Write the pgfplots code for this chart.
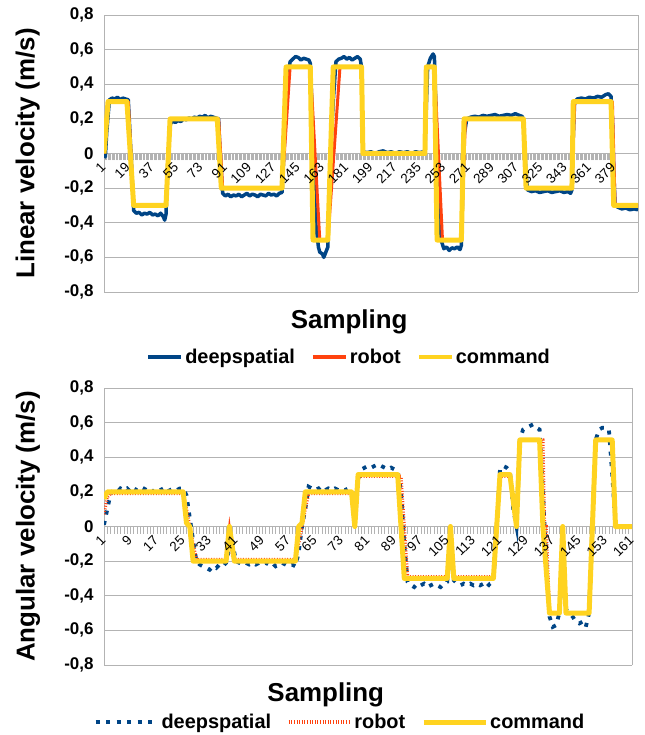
\documentclass[border=0pt]{standalone}
\usepackage{fontspec}
\setmainfont{Liberation Sans}
\usepackage{pgfplots}
\pgfplotsset{compat=1.18}
\definecolor{dsblue}{HTML}{004586}
\definecolor{robred}{HTML}{FF420E}
\definecolor{cmdyel}{HTML}{FFD320}
\definecolor{gridgray}{HTML}{B3B3B3}
\pgfplotsset{
 mystyle/.style={
  scale only axis,
  axis x line*=middle,
  axis y line*=box,
  ymin=-0.8, ymax=0.8,
  ytick={-0.8,-0.6,-0.4,-0.2,0,0.2,0.4,0.6,0.8},
  yticklabels={{-0,8},{-0,6},{-0,4},{-0,2},0,{0,2},{0,4},{0,6},{0,8}},
  yticklabel style={font=\fontsize{17}{17}\selectfont\bfseries},
  ytick style={draw=none},
  ymajorgrids, grid style={gridgray, line width=0.9bp},
  axis line style={gridgray, line width=0.9bp},
  tick align=outside,
  major tick length=7bp, minor tick length=7bp,
  x tick style={gridgray, line width=0.6bp},
  minor x tick style={gridgray, line width=0.6bp},
  xticklabels={},
  legend style={draw=none, fill=none, font=\fontsize{20}{20}\selectfont\bfseries,
    /tikz/every even column/.append style={column sep=14bp}},
  legend columns=3,
  legend cell align=left,
 },
 labelaxis/.style={
  scale only axis,
  axis x line*=middle,
  axis y line=none,
  ymin=-0.8, ymax=0.8,
  ytick=\empty,
  axis line style={draw=none},
  x tick style={draw=none},
  tick align=outside,
  major tick length=11bp,
  hide obscured x ticks=false,
  xticklabel style={font=\fontsize{13.5}{13.5}\selectfont, rotate=45, anchor=east, inner sep=1bp},
 }
}
\begin{document}
\begin{tikzpicture}
\path (0,0) rectangle (641bp,735bp);
% ---------------- top: linear velocity ----------------
\begin{axis}[mystyle,
  at={(104bp,443bp)}, anchor=south west,
  width=534bp, height=277bp,
  xmin=1, xmax=397,
  xtick={1,19,37,55,73,91,109,127,145,163,181,199,217,235,253,271,289,307,325,343,361,379},
  minor x tick num=17,
  xlabel={Sampling}, ylabel={Linear velocity (m/s)},
  every axis x label/.style={at={(axis description cs:0.459,-0.108)}, anchor=center, font=\fontsize{26}{26}\selectfont\bfseries},
  every axis y label/.style={at={(axis description cs:-0.143,0.5)}, rotate=90, anchor=center, font=\fontsize{26}{26}\selectfont\bfseries},
  legend style={at={(axis description cs:0.459,-0.235)}, anchor=center},
  legend image code/.code={\draw[#1, line width=4bp] (0bp,0bp) -- (33bp,0bp);},
]
\addplot[dsblue, line width=3.5bp, line join=round] coordinates {
(1,0.00)(2,-0.02)(3,0.12)(5,0.31)(7,0.32)(9,0.315)(11,0.325)(13,0.31)(15,0.32)(17,0.315)(19,0.31)(21,0.0)
(23,-0.33)(25,-0.345)(27,-0.34)(29,-0.355)(31,-0.345)(33,-0.35)(35,-0.34)(37,-0.355)(39,-0.35)(41,-0.36)(43,-0.345)(45,-0.365)(46,-0.385)(47,-0.35)(48,-0.1)
(50,0.17)(52,0.185)(54,0.18)(56,0.19)(58,0.185)(60,0.2)(62,0.195)(64,0.205)(66,0.2)(68,0.21)(70,0.205)(72,0.215)(74,0.21)(76,0.22)(78,0.205)(80,0.215)(82,0.21)(84,0.205)(86,0.2)(87,0.0)
(89,-0.23)(91,-0.245)(93,-0.235)(95,-0.25)(97,-0.24)(99,-0.245)(101,-0.235)(103,-0.25)(105,-0.24)(107,-0.23)(109,-0.245)(111,-0.235)(113,-0.24)(115,-0.25)(117,-0.235)(119,-0.24)(121,-0.245)(123,-0.23)(125,-0.24)(127,-0.235)(129,-0.245)(131,-0.23)(133,-0.225)
(135,0.1)(137,0.4)(139,0.53)(141,0.545)(143,0.56)(145,0.555)(147,0.54)(149,0.55)(151,0.545)(153,0.54)(154,0.52)(156,0.1)
(158,-0.4)(160,-0.54)(161,-0.57)(163,-0.58)(164,-0.6)(165,-0.58)(166,-0.56)(167,-0.54)(169,0.0)
(171,0.3)(173,0.53)(175,0.545)(177,0.55)(179,0.56)(181,0.545)(183,0.555)(185,0.54)(187,0.55)(189,0.56)(191,0.545)(192,0.5)
(193,0.01)(196,0.005)(199,0.01)(202,0.0)(205,0.01)(208,0.015)(211,0.005)(214,0.01)(217,0.0)(220,0.01)(223,0.005)(226,0.01)(229,0.0)(232,0.01)(235,0.005)(238,0.01)(239,0.02)
(241,0.5)(243,0.55)(245,0.575)(246,0.56)(247,0.3)(249,-0.3)(251,-0.5)(253,-0.55)(255,-0.54)(257,-0.56)(259,-0.545)(261,-0.55)(263,-0.54)(265,-0.555)(266,-0.53)
(268,0.1)(270,0.2)(273,0.21)(276,0.215)(279,0.21)(282,0.22)(285,0.215)(288,0.22)(291,0.225)(294,0.215)(297,0.22)(300,0.225)(303,0.22)(306,0.23)(309,0.22)(311,0.215)(312,0.2)(313,0.0)
(315,-0.21)(318,-0.22)(321,-0.215)(324,-0.225)(327,-0.22)(330,-0.215)(333,-0.225)(336,-0.22)(339,-0.215)(342,-0.225)(345,-0.22)(347,-0.23)(348,-0.21)(349,0.1)
(350,0.3)(352,0.315)(355,0.32)(358,0.315)(361,0.325)(364,0.32)(367,0.33)(370,0.325)(373,0.34)(375,0.345)(377,0.33)(378,0.2)(379,-0.1)
(380,-0.3)(382,-0.31)(385,-0.32)(388,-0.315)(391,-0.325)(394,-0.32)(397,-0.325)
};
\addlegendentry{deepspatial}
\addplot[robred, line width=3bp, line join=round] coordinates {
(1,0)(4,0.3)(19,0.3)(23,-0.3)(47,-0.3)(50,0.2)(86,0.2)(89,-0.2)(133,-0.2)(139,0.5)(154,0.5)(161,-0.5)(167,-0.5)(176,0.5)(192,0.5)(193,0)(239,0)(240,0.5)(246,0.5)(252,-0.5)(266,-0.5)(269,0.2)(312,0.2)(314,-0.2)(348,-0.2)(350,0.3)(378,0.3)(380,-0.3)(397,-0.3)
};
\addlegendentry{robot}
\addplot[cmdyel, line width=5bp, line join=round] coordinates {
(1,0)(4,0.3)(18,0.3)(23,-0.3)(47,-0.3)(50,0.2)(85,0.2)(88,-0.2)(133,-0.2)(136,0.5)(154,0.5)(156,-0.5)(167,-0.5)(171,0.5)(192,0.5)(193,0)(239,0)(240,0.5)(246,0.5)(248,-0.5)(266,-0.5)(268,0.2)(312,0.2)(314,-0.2)(348,-0.2)(349,0.3)(377,0.3)(379,-0.3)(397,-0.3)
};
\addlegendentry{command}
\end{axis}
\begin{axis}[labelaxis,
  at={(104bp,443bp)}, anchor=south west,
  width=534bp, height=277bp,
  xmin=1, xmax=397,
  xtick={1,19,37,55,73,91,109,127,145,163,181,199,217,235,253,271,289,307,325,343,361,379},
  xticklabels={1,19,37,55,73,91,109,127,145,163,181,199,217,235,253,271,289,307,325,343,361,379},
]
\end{axis}
% ---------------- bottom: angular velocity ----------------
\begin{axis}[mystyle,
  at={(104bp,70bp)}, anchor=south west,
  width=528bp, height=277bp,
  xmin=1, xmax=161,
  xtick={1,9,17,25,33,41,49,57,65,73,81,89,97,105,113,121,129,137,145,153,161},
  minor x tick num=7,
  xlabel={Sampling}, ylabel={Angular velocity (m/s)},
  every axis x label/.style={at={(axis description cs:0.42,-0.108)}, anchor=center, font=\fontsize{26}{26}\selectfont\bfseries},
  every axis y label/.style={at={(axis description cs:-0.144,0.5)}, rotate=90, anchor=center, font=\fontsize{26}{26}\selectfont\bfseries},
  legend style={at={(axis description cs:0.447,-0.206)}, anchor=center},
  legend image code/.code={\draw[#1] (0bp,0bp) -- (62bp,0bp);},
]
\addplot[dsblue, line width=3.8bp, dash pattern=on 4bp off 6.5bp] coordinates {
(1,0.01)(2,0.1)(3,0.19)(4,0.21)(5,0.2)(6,0.22)(7,0.21)(8,0.22)(9,0.2)(10,0.22)(11,0.21)(12,0.23)(13,0.22)(14,0.21)(15,0.22)(16,0.2)(17,0.22)(18,0.21)(19,0.22)(20,0.2)
(21,0.21)(22,0.22)(23,0.21)(24,0.22)(25,0.22)(26,0.18)(27,0.05)(28,-0.08)(29,-0.2)(30,-0.22)(31,-0.23)(32,-0.24)(33,-0.25)(34,-0.23)(35,-0.24)(36,-0.22)(37,-0.23)(38,-0.21)(39,-0.12)(40,-0.1)
(41,-0.2)(42,-0.21)(43,-0.22)(44,-0.21)(45,-0.22)(46,-0.21)(47,-0.22)(48,-0.21)(49,-0.22)(50,-0.21)(51,-0.22)(52,-0.21)(53,-0.23)(54,-0.22)(55,-0.21)(56,-0.22)(57,-0.23)(58,-0.22)(59,-0.23)(60,-0.15)
(61,0.0)(62,0.1)(63,0.23)(64,0.22)(65,0.21)(66,0.22)(67,0.2)(68,0.21)(69,0.22)(70,0.21)(71,0.22)(72,0.21)(73,0.22)(74,0.21)(75,0.22)(76,0.21)(77,0.12)(78,0.27)(79,0.33)(80,0.34)
(81,0.35)(82,0.34)(83,0.35)(84,0.36)(85,0.35)(86,0.34)(87,0.33)(88,0.34)(89,0.33)(90,0.32)(91,0.2)(92,-0.1)(93,-0.32)(94,-0.34)(95,-0.35)(96,-0.33)(97,-0.34)(98,-0.33)(99,-0.35)(100,-0.34)
(101,-0.33)(102,-0.34)(103,-0.35)(104,-0.33)(105,-0.32)(106,-0.1)(107,-0.31)(108,-0.33)(109,-0.34)(110,-0.33)(111,-0.34)(112,-0.33)(113,-0.34)(114,-0.33)(115,-0.34)(116,-0.33)(117,-0.35)(118,-0.33)(119,-0.32)(120,0.0)
(121,0.33)(122,0.35)(123,0.34)(124,0.32)(125,0.1)(126,0.0)(127,0.5)(128,0.56)(129,0.57)(130,0.58)(131,0.59)(132,0.57)(133,0.56)(134,0.2)(135,-0.2)(136,-0.52)(137,-0.58)(138,-0.57)(139,-0.5)(140,-0.2)
(141,-0.48)(142,-0.5)(143,-0.52)(144,-0.55)(145,-0.56)(146,-0.55)(147,-0.58)(148,-0.5)(149,0.0)(150,0.5)(151,0.56)(152,0.57)(153,0.57)(154,0.56)(155,0.3)(156,0.01)(157,0.0)(158,0.0)(159,0.0)(160,0.0)(161,0.0)
};
\addlegendentry{deepspatial}
\addplot[robred, line width=3.2bp, dash pattern=on 1bp off 1.6bp] coordinates {
(1,0.07)(2,0.17)(3,0.19)(25,0.19)(26,0.1)(27,0.0)(28,-0.1)(29,-0.19)(38,-0.19)(39,-0.02)(40,-0.18)(41,-0.19)(59,-0.19)(60,-0.1)(61,0.0)(62,0.1)(63,0.19)(76,0.19)(77,0.02)(78,0.29)(91,0.29)(92,0.0)(93,-0.29)(105,-0.29)(106,-0.02)(107,-0.29)(119,-0.29)(120,0)(121,0.29)(124,0.29)(126,0.02)(127,0.5)(134,0.5)(134.5,0)(135,0)(136,-0.5)(139,-0.5)(140,-0.02)(141,-0.5)(148,-0.5)(150,0.5)(155,0.5)(156,0.0)(161,0)
};
\addlegendentry{robot}
\addplot[cmdyel, line width=5bp, line join=round] coordinates {
(1,0.16)(2,0.2)(25,0.2)(26,0.02)(27,0)(28,-0.2)(38,-0.2)(39,0)(40.5,-0.2)(59,-0.2)(60,0)(61,0.02)(62,0.2)(76,0.2)(77,0)(78,0.3)(90,0.3)(92,-0.3)(105,-0.3)(106,0)(107,-0.3)(119,-0.3)(121,0.3)(124,0.3)(126,0)(127,0.5)(133,0.5)(134,0)(136,-0.5)(139,-0.5)(140,0)(141,-0.5)(148,-0.5)(150,0.5)(155,0.5)(156,0)(161,0)
};
\addlegendentry{command}
\end{axis}
\begin{axis}[labelaxis,
  at={(104bp,70bp)}, anchor=south west,
  width=528bp, height=277bp,
  xmin=1, xmax=161,
  xtick={1,9,17,25,33,41,49,57,65,73,81,89,97,105,113,121,129,137,145,153,161},
  xticklabels={1,9,17,25,33,41,49,57,65,73,81,89,97,105,113,121,129,137,145,153,161},
]
\end{axis}
\end{tikzpicture}
\end{document}
